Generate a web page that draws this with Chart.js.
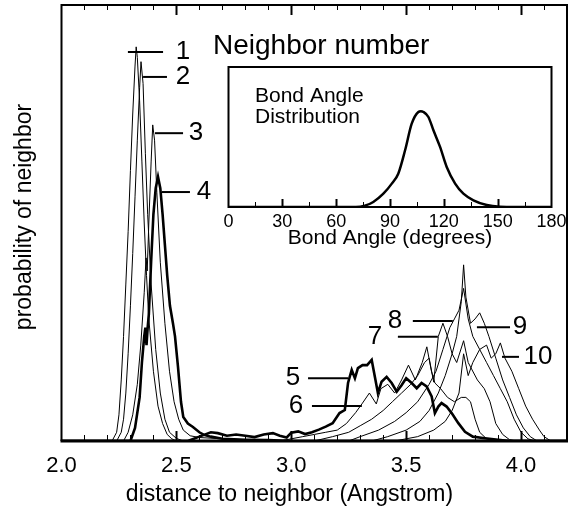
<!DOCTYPE html>
<html><head><meta charset="utf-8">
<script src="https://cdn.jsdelivr.net/npm/chart.js@4.4.1/dist/chart.umd.min.js"></script>
<style>
html,body{margin:0;padding:0;background:#fff;}
#wrap{position:relative;width:568px;height:511px;overflow:hidden;}
#main{position:absolute;left:0;top:0;}
#inset{position:absolute;left:213px;top:25px;}
</style></head><body>
<div id="wrap">
<canvas id="main" width="568" height="511"></canvas>
<canvas id="inset" width="355" height="235"></canvas>
</div>
<script>
// ---------- main chart data (distance in Angstrom, probability in arbitrary units) ----------
const distanceTickLabels = ['2.0', '2.5', '3.0', '3.5', '4.0'];
const xAxisTitle = 'distance to neighbor (Angstrom)';
const yAxisTitle = 'probability of neighbor';

const n1x = [2.00, 2.22, 2.24, 2.25, 2.26, 2.27, 2.28, 2.29, 2.30, 2.31, 2.32, 2.325, 2.33, 2.34, 2.35, 2.36, 2.37, 2.38, 2.40, 2.42, 2.44, 2.46, 2.48, 2.50, 4.20];
const n1y = [0, 0, 2, 6, 14, 24, 36, 48, 62, 75, 86, 90.4, 88, 78, 64, 50, 38, 28, 16, 8, 4, 1.5, 0.5, 0, 0];

const n2x = [2.00, 2.24, 2.26, 2.27, 2.28, 2.29, 2.30, 2.31, 2.32, 2.33, 2.34, 2.346, 2.355, 2.365, 2.375, 2.39, 2.41, 2.43, 2.45, 2.47, 2.50, 2.53, 4.20];
const n2y = [0, 0, 2, 5, 11, 20, 31, 43, 56, 69, 81, 87, 82, 66, 52, 36, 21, 11, 5, 2, 0.6, 0, 0];

const n3x = [2.00, 2.27, 2.29, 2.31, 2.33, 2.345, 2.36, 2.368, 2.373, 2.38, 2.39, 2.397, 2.405, 2.415, 2.43, 2.45, 2.47, 2.49, 2.51, 2.53, 2.56, 2.60, 2.70, 2.80, 2.90, 4.20];
const n3y = [0, 0, 2, 6, 13, 22, 34, 42, 39, 50, 64, 72.5, 69, 57, 41, 27, 16, 9, 5, 2.5, 1.2, 0.8, 0.5, 0.3, 0, 0];

const n4x = [2.00, 2.30, 2.32, 2.34, 2.35, 2.36, 2.365, 2.37, 2.375, 2.38, 2.39, 2.40, 2.41, 2.42, 2.43, 2.44, 2.45, 2.46, 2.472, 2.485, 2.494, 2.507, 2.52, 2.53, 2.55, 2.572, 2.60, 2.62, 2.65, 2.70, 2.80, 2.90, 3.00, 4.20];
const n4y = [0, 0, 3, 10, 18, 24, 26, 22, 26, 29, 41, 52, 58, 60.6, 58, 52, 45, 38, 31, 27, 24, 17, 9, 5.5, 4, 3.2, 2, 1.4, 1, 0.5, 0.3, 0.2, 0, 0];

const n5x = [2.00, 2.55, 2.60, 2.65, 2.68, 2.72, 2.76, 2.80, 2.84, 2.88, 2.92, 2.95, 2.98, 3.00, 3.03, 3.06, 3.09, 3.12, 3.15, 3.18, 3.21, 3.233, 3.247, 3.263, 3.277, 3.29, 3.31, 3.33, 3.35, 3.364, 3.377, 3.393, 3.415, 3.437, 3.459, 3.48, 3.50, 3.524, 3.546, 3.567, 3.589, 3.611, 3.625, 3.64, 3.654, 3.676, 3.698, 3.727, 3.756, 3.79, 3.834, 3.90, 3.95, 4.20];
const n5y = [0, 0, 1, 2, 1.8, 1.2, 1.5, 1.2, 0.9, 1.5, 1.8, 1.2, 0.8, 1.9, 2.2, 1.6, 2, 2.6, 3.3, 4.1, 6.4, 7.1, 13.3, 16.3, 14.4, 16.7, 17.4, 17.4, 18.6, 14.7, 11, 13.6, 14.7, 13.3, 11.3, 12.8, 14.4, 13.3, 12.1, 13.3, 12.5, 10.2, 6.4, 7.9, 8.7, 7.9, 6.4, 4.1, 2.1, 1, 0.7, 0.3, 0, 0];

const n6x = [2.00, 2.95, 3.00, 3.05, 3.10, 3.15, 3.20, 3.24, 3.28, 3.31, 3.34, 3.37, 3.39, 3.42, 3.45, 3.48, 3.51, 3.54, 3.57, 3.59, 3.61, 3.625, 3.65, 3.68, 3.71, 3.74, 3.76, 3.78, 3.80, 3.82, 3.85, 3.88, 4.20];
const n6y = [0, 0, 0.5, 1, 1.5, 2, 2.5, 4, 6.5, 8.7, 11, 8.5, 12, 13, 11, 14, 17.4, 14, 18, 21.6, 16, 13.3, 12, 10, 9, 10, 10, 9, 5, 2, 0.5, 0, 0];

const n7x = [2.00, 3.10, 3.18, 3.25, 3.30, 3.35, 3.40, 3.44, 3.48, 3.52, 3.55, 3.58, 3.60, 3.62, 3.64, 3.66, 3.68, 3.70, 3.72, 3.75, 3.77, 3.81, 3.84, 3.865, 3.89, 3.92, 3.95, 3.98, 4.20];
const n7y = [0, 0, 1, 2, 3.5, 5, 7, 9, 11, 13, 15, 18, 19, 13.5, 24, 27, 24, 20, 18, 23, 18, 14, 12, 9, 4, 1.5, 0.3, 0, 0];

const n8x = [2.00, 3.25, 3.30, 3.38, 3.45, 3.50, 3.55, 3.60, 3.63, 3.66, 3.69, 3.71, 3.73, 3.75, 3.77, 3.79, 3.82, 3.85, 3.88, 3.91, 3.94, 3.97, 4.00, 4.03, 4.06, 4.20];
const n8y = [0, 0, 1, 2.5, 4.5, 6.5, 9, 13, 16, 21, 26, 28, 30, 35, 28, 24, 21, 18, 15, 12, 9, 5, 2, 0.5, 0, 0];

const n9x = [2.00, 3.35, 3.42, 3.50, 3.56, 3.60, 3.64, 3.67, 3.70, 3.72, 3.74, 3.75, 3.76, 3.78, 3.80, 3.82, 3.84, 3.86, 3.89, 3.92, 3.95, 3.98, 4.01, 4.04, 4.07, 4.20];
const n9y = [0, 0, 1, 2.5, 4.5, 7, 11, 15, 20, 24, 32, 40.4, 33, 27, 28, 29.4, 27, 24, 19, 14, 10, 6, 3, 1, 0, 0];

const n10x = [2.00, 3.45, 3.55, 3.62, 3.67, 3.70, 3.73, 3.75, 3.77, 3.79, 3.82, 3.85, 3.87, 3.89, 3.91, 3.93, 3.96, 3.99, 4.02, 4.05, 4.08, 4.10, 4.13, 4.20];
const n10y = [0, 0, 1, 2.5, 4.5, 7, 11, 20, 15, 18, 21, 22, 19, 20, 22.5, 19, 16, 12, 8, 5, 2.5, 1, 0, 0];

// neighbor-number callouts (text, text centre x, y level, leader line from/to, in data units)
const calloutText  = ['1', '2', '3', '4', '5', '6', '7', '8', '9', '10'];
const calloutTextX = [2.529, 2.529, 2.585, 2.620, 3.007, 3.020, 3.364, 3.451, 3.995, 4.074];
const calloutY     = [89.2, 83.5, 70.6, 57.1, 14.4, 8.0, 23.9, 27.5, 26.1, 19.3];
const calloutFrom  = [2.289, 2.355, 2.407, 2.437, 3.073, 3.090, 3.464, 3.529, 3.808, 3.917];
const calloutTo    = [2.442, 2.459, 2.529, 2.559, 3.247, 3.307, 3.638, 3.703, 3.952, 3.991];

// ---------- inset data ----------
const angleTickLabels = ['0', '30', '60', '90', '120', '150', '180'];
const angleDeg = [0, 60, 71, 76, 80.7, 86.3, 91, 94.6, 98.4, 102.1, 105.8, 107.2, 108.6, 111.4, 114.2, 117.9, 121.6, 126.3, 130.9, 136.5, 143.9, 151.3, 160, 180];
const angleProb = [0, 0, 0, 1, 3.6, 9.5, 16.7, 23.8, 40.5, 59.5, 67.9, 68.4, 67.9, 64.3, 54.8, 42.9, 28.6, 16.7, 9.5, 4.8, 1.4, 0.2, 0, 0];

// ---------- build ----------
const FONT = "'Liberation Sans', Arial, Helvetica, sans-serif";
Chart.defaults.font.family = FONT;
Chart.defaults.color = '#000';

const seriesX = [n1x, n2x, n3x, n4x, n5x, n6x, n7x, n8x, n9x, n10x];
const seriesY = [n1y, n2y, n3y, n4y, n5y, n6y, n7y, n8y, n9y, n10y];
const thick = [false, false, false, true, true, false, false, false, false, false];

const datasets = seriesX.map((xs, i) => ({
  label: 'Neighbor ' + (i + 1),
  data: xs.map((x, j) => ({x: x, y: seriesY[i][j]})),
  borderColor: '#000',
  borderWidth: thick[i] ? 2.6 : 1,
  pointRadius: 0,
  tension: 0,
  fill: false
}));

function isLabelled(v, labels) {
  return labels.some(l => Math.abs(Number(l) - v) < 1e-6);
}
function labelFor(v, labels) {
  const l = labels.find(l => Math.abs(Number(l) - v) < 1e-6);
  return l === undefined ? '' : l;
}

const mainFrame = {
  id: 'mainFrame',
  afterDatasetsDraw(chart) {
    const {ctx, chartArea: {left, right, top, bottom}, scales: {x, y}} = chart;
    ctx.save();
    ctx.strokeStyle = '#000';
    ctx.lineWidth = 2;
    ctx.beginPath();
    ctx.moveTo(left, bottom); ctx.lineTo(left, top); ctx.lineTo(right, top); ctx.lineTo(right, bottom);
    ctx.stroke();
    ctx.lineWidth = 3;
    ctx.beginPath(); ctx.moveTo(left - 1, bottom); ctx.lineTo(right + 1, bottom); ctx.stroke();
    x.ticks.forEach(t => {
      const px = Math.round(x.getPixelForValue(t.value)) + 0.5;
      const major = isLabelled(t.value, distanceTickLabels);
      if (px <= left + 2 || px >= right - 2) return;
      ctx.lineWidth = major ? 2 : 1;
      ctx.beginPath(); ctx.moveTo(px, bottom); ctx.lineTo(px, bottom - (major ? 10 : 6)); ctx.stroke();
      ctx.beginPath(); ctx.moveTo(px, top); ctx.lineTo(px, top + (major ? 10 : 5)); ctx.stroke();
    });
    // callouts
    ctx.font = '26px ' + FONT;
    ctx.fillStyle = '#000';
    ctx.textAlign = 'center';
    ctx.textBaseline = 'middle';
    ctx.lineWidth = 2;
    calloutText.forEach((t, i) => {
      const py = y.getPixelForValue(calloutY[i]);
      ctx.beginPath();
      ctx.moveTo(x.getPixelForValue(calloutFrom[i]), py);
      ctx.lineTo(x.getPixelForValue(calloutTo[i]), py);
      ctx.stroke();
      ctx.fillText(t, x.getPixelForValue(calloutTextX[i]), py);
    });
    ctx.restore();
  },
  afterDraw(chart) {
    // axis titles, placed as in the original figure (x title sits left of the axis centre)
    const {ctx, chartArea: {left, top, bottom}} = chart;
    ctx.save();
    ctx.fillStyle = '#000';
    ctx.font = '23px ' + FONT;
    ctx.textAlign = 'center';
    ctx.textBaseline = 'alphabetic';
    ctx.fillText(xAxisTitle, left + 228, bottom + 60);
    ctx.translate(left - 31, (top + bottom) / 2 - 6);
    ctx.rotate(-Math.PI / 2);
    ctx.fillText(yAxisTitle, 0, 0);
    ctx.restore();
  }
};

new Chart(document.getElementById('main'), {
  type: 'line',
  data: {datasets},
  options: {
    responsive: false,
    animation: false,
    layout: {padding: {top: 5, right: 1, left: 0, bottom: 0}},
    plugins: {legend: {display: false}, tooltip: {enabled: false}},
    scales: {
      x: {
        type: 'linear', min: 2.0, max: 4.2,
        grid: {display: true, drawOnChartArea: false, drawTicks: true, tickLength: 12, color: 'rgba(0,0,0,0)'},
        border: {display: false},
        ticks: {
          stepSize: 0.1, autoSkip: false, maxRotation: 0, padding: 0,
          color: '#000', font: {size: 22},
          callback: v => labelFor(v, distanceTickLabels)
        },
        title: {display: false, text: xAxisTitle},
        afterFit(s) { s.height = 70; }
      },
      y: {
        type: 'linear', min: 0, max: 100,
        grid: {display: false, drawTicks: false},
        border: {display: false},
        ticks: {display: false},
        title: {display: false, text: yAxisTitle},
        afterFit(s) { s.width = 61.5; }
      }
    }
  },
  plugins: [mainFrame]
});

// ---------- inset ----------
const insetFrame = {
  id: 'insetFrame',
  beforeDatasetsDraw(chart) {
    const {ctx, chartArea: {left, right, top, bottom}} = chart;
    ctx.save(); ctx.fillStyle = '#fff';
    ctx.fillRect(left, top, right - left, bottom - top);
    ctx.restore();
  },
  afterDatasetsDraw(chart) {
    const {ctx, chartArea: {left, right, top, bottom}, scales: {x}} = chart;
    ctx.save();
    ctx.strokeStyle = '#000';
    ctx.lineWidth = 2;
    ctx.strokeRect(left, top, right - left, bottom - top);
    x.ticks.forEach(t => {
      const px = Math.round(x.getPixelForValue(t.value)) + 0.5;
      if (px <= left + 2 || px >= right - 2) return;
      const major = isLabelled(t.value, angleTickLabels);
      ctx.lineWidth = major ? 2 : 1;
      ctx.beginPath(); ctx.moveTo(px, bottom); ctx.lineTo(px, bottom - (major ? 8 : 5)); ctx.stroke();
    });
    ctx.fillStyle = '#000';
    ctx.font = '21px ' + FONT;
    ctx.textAlign = 'left';
    ctx.textBaseline = 'alphabetic';
    ctx.fillText('Bond Angle', left + 26.5, top + 34.7);
    ctx.fillText('Distribution', left + 26.5, top + 56);
    ctx.restore();
  }
};

new Chart(document.getElementById('inset'), {
  type: 'line',
  data: {datasets: [{
    label: 'Bond Angle Distribution',
    data: angleDeg.map((d, i) => ({x: d, y: angleProb[i]})),
    borderColor: '#000', borderWidth: 2.5, pointRadius: 0,
    cubicInterpolationMode: 'monotone', fill: false
  }]},
  options: {
    responsive: false,
    animation: false,
    layout: {padding: {top: 0, right: 16.5, left: 0, bottom: 0}},
    plugins: {
      legend: {display: false}, tooltip: {enabled: false},
      title: {display: true, text: 'Neighbor number', align: 'start', color: '#000',
              font: {size: 28, weight: 'normal'}, padding: {top: 4, bottom: 4.4}}
    },
    scales: {
      x: {
        type: 'linear', min: 0, max: 180,
        grid: {display: true, drawOnChartArea: false, drawTicks: true, tickLength: 4, color: 'rgba(0,0,0,0)'},
        border: {display: false},
        ticks: {stepSize: 15, autoSkip: false, maxRotation: 0, padding: 0, color: '#000',
                font: {size: 18}, callback: v => labelFor(v, angleTickLabels)},
        title: {display: true, text: 'Bond Angle (degrees)', color: '#000',
                font: {size: 21}, padding: {top: 0, bottom: 9}},
        afterFit(s) { s.height = 53; }
      },
      y: {
        type: 'linear', min: 0, max: 100,
        grid: {display: false, drawTicks: false},
        border: {display: false},
        ticks: {display: false},
        afterFit(s) { s.width = 15.5; }
      }
    }
  },
  plugins: [insetFrame]
});
</script>
</body></html>
